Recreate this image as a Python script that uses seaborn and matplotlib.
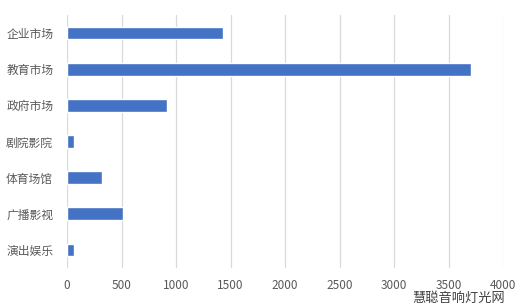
import matplotlib
matplotlib.use("Agg")
import matplotlib.pyplot as plt
import seaborn as sns
import pandas as pd

categories = ["企业市场", "教育市场", "政府市场", "剧院影院", "体育场馆", "广播影视", "演出娱乐"]
values = [1430, 3710, 920, 65, 320, 515, 65]
xticks = [0, 500, 1000, 1500, 2000, 2500, 3000, 3500, 4000]

sns.set_style("white")
plt.rcParams['font.family'] = ['Noto Sans CJK SC', 'DejaVu Sans']

df = pd.DataFrame({"cat": categories, "val": values})

fig = plt.figure(figsize=(5.22, 3.05), dpi=100)
ax = fig.add_axes([67/522, 1-268/305, (503-67)/522, (268-15)/305])
sns.barplot(data=df, x="val", y="cat", orient="h", color="#4472C4", saturation=1,
            width=0.35, ax=ax, zorder=3)
ax.set_xlim(0, 4000)
ax.set_xticks(xticks)
ax.set_xticklabels([str(t) for t in xticks], fontsize=8.5, color="#595959")
ax.tick_params(axis="y", labelsize=8.5, labelcolor="#595959", length=0, pad=10)
ax.tick_params(axis="x", length=0, pad=8)
ax.set_xlabel("")
ax.set_ylabel("")
ax.grid(axis="x", color="#D9D9D9", linewidth=0.9, zorder=0)
ax.set_axisbelow(True)
for s in ax.spines.values():
    s.set_visible(False)
fig.text(505/522, 1-298/305, "慧聪音响灯光网", fontsize=9.5, color="#404040", ha="right", va="center")
fig.savefig("out.png", dpi=100, facecolor="white")
